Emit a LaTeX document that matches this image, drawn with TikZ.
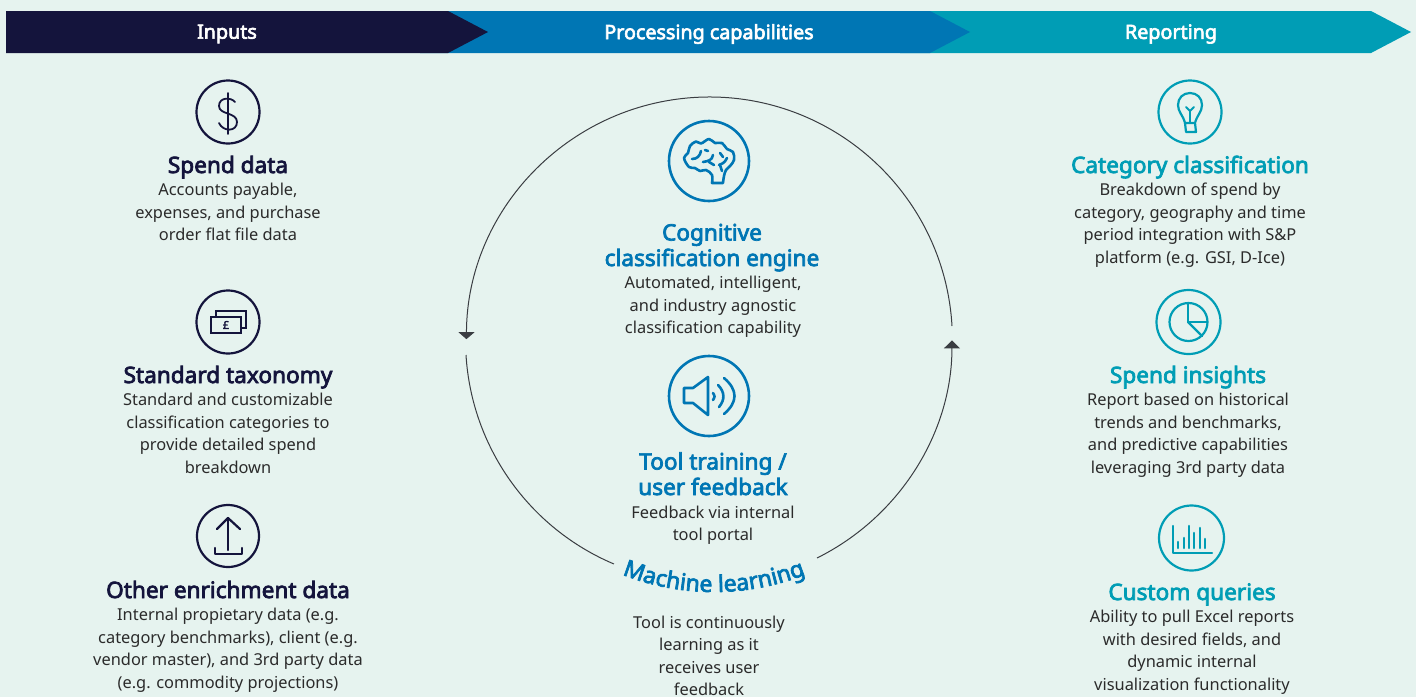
\documentclass[tikz,border=0pt]{standalone}
\usepackage{fontspec}
\setmainfont{Noto Sans}[AutoFakeBold=3.2]
\usetikzlibrary{arrows.meta,decorations.text}
\definecolor{bgc}{HTML}{E6F3EF}
\definecolor{navyc}{HTML}{14143C}
\definecolor{bluec}{HTML}{0076B4}
\definecolor{tealc}{HTML}{009DB5}
\definecolor{bodyc}{HTML}{2B2B2B}
\definecolor{ringc}{HTML}{3A3D42}
\tikzset{
  head/.style={inner sep=0pt,anchor=base,align=center,font=\fontsize{22.6}{25.5}\selectfont\bfseries},
  body/.style={inner sep=0pt,anchor=north,align=center,text=bodyc,font=\fontsize{16.4}{22.6}\selectfont},
  bartext/.style={inner sep=0pt,text=white,font=\fontsize{19.7}{20}\selectfont\bfseries},
  chev/.style={draw=none},
  ring/.style={draw=ringc,line width=1pt},
  ico/.style={line width=2.2pt,line cap=round,line join=round},
  icob/.style={ico,line width=2.6pt},
}
\begin{document}
\begin{tikzpicture}[x=1pt,y=-1pt]
\useasboundingbox (0,0) rectangle (1416,697);
\fill[bgc] (0,0) rectangle (1416,697);
% header chevrons
\fill[chev,tealc] (900,11) -- (1371,11) -- (1411,32) -- (1371,53) -- (900,53) -- cycle;
\fill[chev,bluec] (420,11) -- (930,11) -- (970,32) -- (930,53) -- (420,53) -- cycle;
\fill[chev,navyc] (6,11) -- (448,11) -- (488,32) -- (448,53) -- (6,53) -- cycle;
\node[bartext] (t1) at (227,34) {Inputs};
\node[bartext] (t2) at (709,34) {Processing capabilities};
\node[bartext] (t3) at (1171,34) {Reporting};

% ring
\coordinate (c) at (709,340);
\coordinate (a1) at (952,326);
\coordinate (a2) at (466,355);
\coordinate (a3) at (817,558);
\draw[ring,-{Triangle[length=7pt,width=16pt]}] (a1) arc[start angle=-3.3,end angle=-179.8,radius=243];
\draw[ring] (a2) arc[start angle=176.5,end angle=112.9,radius=243];
\draw[ring,-{Triangle[length=8pt,width=16pt]}] (a3) arc[start angle=63.6,end angle=0,radius=243];
\coordinate (tc) at (714,342);
\path[decorate,decoration={text along path,text align=center,
  text={|\color{bluec}\fontsize{23}{24}\selectfont\bfseries|Machine learning}}]
  (tc) ++(117:250) arc[start angle=117,end angle=63,radius=250];

% left column
\begin{scope}[navyc,draw=navyc]
\draw[ico] (228,112) circle[radius=31.5];
\draw[ico,line width=1.8pt] (228,93) -- (228,134);
\draw[ico,line width=1.8pt] (235,102) .. controls (231,97) and (219,97) .. (219,106) .. controls (219,115) and (237,112) .. (237,122) .. controls (237,132) and (223,132) .. (219,123);
\draw[ico] (228,322) circle[radius=31.5];
\draw[ico,line cap=butt,line join=miter] (216,317) -- (216,311) -- (246,311) -- (246,328) -- (241,328);
\draw[ico,line cap=butt,line join=miter] (211,317) rectangle (241,333);
\node[inner sep=0pt,font=\fontsize{11}{11}\selectfont\bfseries] (pound) at (226,325) {£};
\draw[ico] (228,536) circle[radius=31];
\draw[ico] (228,550) -- (228,518);
\draw[ico] (217,529) -- (228,518) -- (240,529);
\draw[ico] (215,548) -- (215,554) -- (242,554) -- (242,548);
\end{scope}
\node[head,text=navyc] (h1) at (228,173) {Spend data};
\node[body] (b1) at (228,183) {Accounts payable,\\expenses, and purchase\\order flat file data};
\node[head,text=navyc] (h2) at (228,383) {Standard taxonomy};
\node[body] (b2) at (228,393) {Standard and customizable\\classification categories to\\provide detailed spend\\breakdown};
\node[head,text=navyc] (h3) at (228,598) {Other enrichment data};
\node[body] (b3) at (228,608) {Internal propietary data (e.g.\\category benchmarks), client (e.g.\\vendor master), and 3rd party data\\(e.g. commodity projections)};

% centre column
\begin{scope}[bluec,draw=bluec]
\draw[icob] (709,161) circle[radius=40];
\draw[icob] plot[smooth,tension=0.6] coordinates {(712,183) (712,175) (706,170) (700,171) (695,168) (689,167) (684,158) (688,153) (690,146) (696,141.5) (701,143.5) (709,139) (715,143) (722,143) (727,149) (733,152) (734,160) (730,166) (726,170) (724,176) (723,183)} -- cycle;
\draw[icob] (692,159) .. controls (697,159) and (700,156) .. (701,151);
\draw[icob] (705,150) -- (708,151);
\draw[icob] (703,162) .. controls (709,161) and (712,160) .. (713,155);
\draw[icob] (709,162) -- (714,165);
\draw[icob] (720,153) -- (723,157);
\draw[icob] (719,165) .. controls (725,163) and (726,160) .. (727,158);
\draw[icob] (720,165) -- (722,171);
\draw[icob] (709,396) circle[radius=40];
\draw[icob] (684,388) -- (693,388) -- (708,377) -- (708,415) -- (693,403) -- (684,403) -- cycle;
\draw[icob] (713,393) .. controls (715,396) and (715,397) .. (713,400);
\draw[icob] (718,385) .. controls (725,392) and (725,400) .. (719,407);
\draw[icob] (724,378) .. controls (738,390) and (738,402) .. (724,414);
\end{scope}
\node[head,text=bluec] (h4) at (712,266) {Cognitive\\classification engine};
\node[body] (b4) at (713,276) {Automated, intelligent,\\and industry agnostic\\classification capability};
\node[head,text=bluec] (h5) at (713,495) {Tool training /\\user feedback};
\node[body] (b5) at (713,505.5) {Feedback via internal\\tool portal};
\node[body] (b6) at (709,615.5) {Tool is continuously\\learning as it\\receives user\\feedback};

% right column
\begin{scope}[tealc,draw=tealc]
\draw[ico] (1190,112) circle[radius=31.5];
\draw[ico] (1185,123) .. controls (1183,115) and (1178,112) .. (1178,105) .. controls (1178,98) and (1183,93) .. (1190,93) .. controls (1197,93) and (1202,98) .. (1202,105) .. controls (1202,112) and (1197,115) .. (1195,123) -- cycle;
\draw[ico] (1185,123) -- (1186,132) -- (1196,132) -- (1195,123);
\draw[ico,line width=1.8pt] (1190,123) -- (1190,111);
\draw[ico,line width=1.8pt] (1186,107) -- (1190,111) -- (1194,107);
\draw[ico] (1188.5,322) circle[radius=32];
\draw[ico] (1188.5,322) circle[radius=19];
\draw[ico] (1188,303) -- (1188,322) -- (1207,322);
\draw[ico] (1188,322) -- (1202,336);
\draw[ico] (1191.5,538) circle[radius=32.5];
\draw[ico] (1173,526) -- (1173,553) -- (1212,553);
\foreach \bx/\by in {1178/542,1184/538,1189/526,1194/533,1200/528,1205/539}
  \draw[ico,line width=2.6pt] (\bx,\by) -- (\bx,548);
\end{scope}
\node[head,text=tealc] (h7) at (1190,173) {Category classification};
\node[body] (b7) at (1190,183) {Breakdown of spend by\\category, geography and time\\period integration with S\&P\\platform (e.g. GSI, D-Ice)};
\node[head,text=tealc] (h8) at (1188,383) {Spend insights};
\node[body] (b8) at (1188,393) {Report based on historical\\trends and benchmarks,\\and predictive capabilities\\leveraging 3rd party data};
\node[head,text=tealc] (h9) at (1192,600) {Custom queries};
\node[body] (b9) at (1192,610) {Ability to pull Excel reports\\with desired fields, and\\dynamic internal\\visualization functionality};
\end{tikzpicture}
\end{document}
